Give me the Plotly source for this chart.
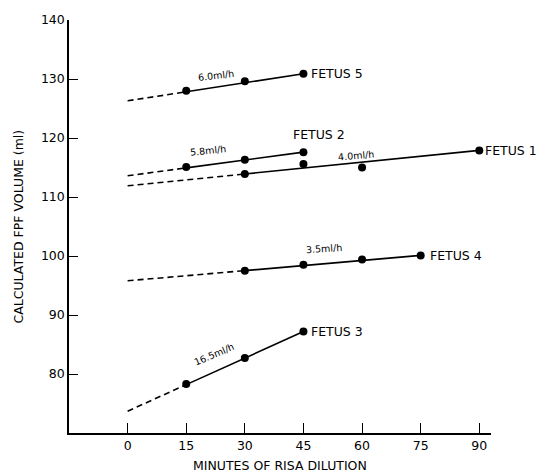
import plotly.graph_objects as go

# ---- data ----
fetus_names = ["FETUS 5", "FETUS 2", "FETUS 1", "FETUS 4", "FETUS 3"]
rate_labels = ["6.0ml/h", "5.8ml/h", "4.0ml/h", "3.5ml/h", "16.5ml/h"]
minutes = [
    [15, 30, 45],
    [15, 30, 45],
    [30, 45, 60, 90],
    [30, 45, 60, 75],
    [15, 30, 45],
]
volumes = [
    [128.0, 129.6, 130.9],
    [115.1, 116.3, 117.6],
    [113.9, 115.6, 115.0, 117.9],
    [97.5, 98.5, 99.4, 100.1],
    [78.3, 82.7, 87.2],
]
# fitted-line values at 0 min and at the last sampling time
fit_at_zero = [126.3, 113.6, 111.9, 95.8, 73.7]
fit_at_end = [130.9, 117.6, 117.9, 100.1, 87.2]

x_ticks = [0, 15, 30, 45, 60, 75, 90]
y_ticks = [80, 90, 100, 110, 120, 130, 140]

FONT = "DejaVu Sans"
fig = go.Figure()

for i in range(len(fetus_names)):
    xs, ys = minutes[i], volumes[i]
    x0, x1 = 0, xs[-1]
    y0, y1 = fit_at_zero[i], fit_at_end[i]
    xf = xs[0]
    yf = y0 + (y1 - y0) * (xf - x0) / (x1 - x0)
    # dashed extrapolation back to time zero
    fig.add_trace(go.Scatter(x=[x0, xf], y=[y0, yf], mode="lines",
                             line=dict(color="black", width=1.6, dash="6px,4px"),
                             showlegend=False, hoverinfo="skip"))
    # solid fitted line over the sampled period
    fig.add_trace(go.Scatter(x=[xf, x1], y=[yf, y1], mode="lines",
                             line=dict(color="black", width=1.6),
                             showlegend=False, hoverinfo="skip"))
    fig.add_trace(go.Scatter(x=xs, y=ys, mode="markers",
                             marker=dict(color="black", size=8),
                             showlegend=False, cliponaxis=False))

lab = dict(font=dict(family=FONT, size=12.5, color="black"), showarrow=False)
small = dict(font=dict(family=FONT, size=9.5, color="black"), showarrow=False)

# fetus labels
fig.add_annotation(x=45, y=130.9, text=fetus_names[0], xanchor="left", xshift=6, **lab)
fig.add_annotation(x=49, y=120.6, text=fetus_names[1], xanchor="center", **lab)
fig.add_annotation(x=90, y=117.9, text=fetus_names[2], xanchor="left", xshift=4, **lab)
fig.add_annotation(x=75, y=100.1, text=fetus_names[3], xanchor="left", xshift=7, **lab)
fig.add_annotation(x=45, y=87.2, text=fetus_names[4], xanchor="left", xshift=6, **lab)

# rate labels
fig.add_annotation(x=22.5, y=130.6, text=rate_labels[0], textangle=-7, **small)
fig.add_annotation(x=20.5, y=117.9, text=rate_labels[1], textangle=-6, **small)
fig.add_annotation(x=58.5, y=117.0, text=rate_labels[2], textangle=-5, **small)
fig.add_annotation(x=50.3, y=101.3, text=rate_labels[3], textangle=-4, **small)
fig.add_annotation(x=22.0, y=83.3, text=rate_labels[4], textangle=-23, **small)

# axis titles
fig.add_annotation(xref="paper", yref="paper", x=0.5, y=0, yanchor="top", yshift=-23,
                   text="MINUTES OF RISA DILUTION", **lab)
fig.add_annotation(xref="paper", yref="paper", x=0, y=0.5, xanchor="center",
                   xshift=-51, textangle=-90,
                   text="CALCULATED FPF VOLUME (ml)", **lab)

axis_common = dict(showline=True, linecolor="black", linewidth=1.5, ticks="inside",
                   tickwidth=1.3, tickcolor="black", showgrid=False, zeroline=False,
                   tickfont=dict(family=FONT, size=12.5, color="black"))

fig.update_layout(
    width=549, height=476,
    margin=dict(l=69, r=58, t=16, b=43),
    paper_bgcolor="white", plot_bgcolor="white",
    font=dict(family=FONT, size=12, color="black"),
    xaxis=dict(range=[-15, 93], tickvals=x_ticks, ticktext=[str(v) for v in x_ticks],
               ticklen=10, **axis_common),
    yaxis=dict(range=[70, 140], tickvals=y_ticks, ticktext=[str(v) for v in y_ticks],
               ticklen=9, **axis_common),
)

fig.write_html("out.html",
               config={"displayModeBar": False},
               post_script="document.body.style.margin='0';"
                           "document.body.style.overflow='hidden';")
